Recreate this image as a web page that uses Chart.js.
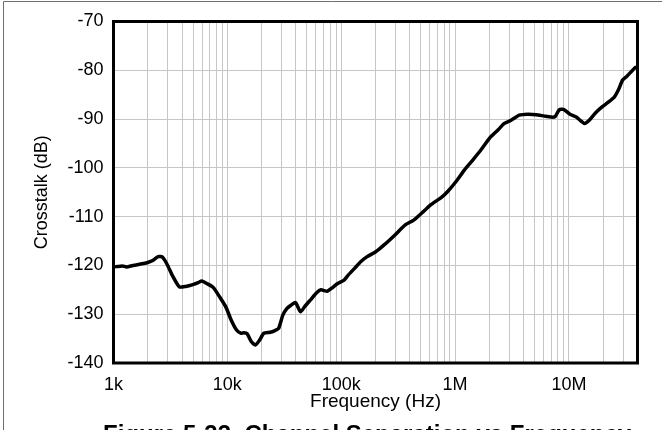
<!DOCTYPE html>
<html lang="en">

<head>
    <meta charset="UTF-8">
    <title>Channel Separation vs Frequency</title>
    <style>
        html,
        body {
            margin: 0;
            padding: 0;
            background: #fff;
            overflow: hidden;
        }

        canvas {
            display: block;
        }
    </style>
</head>

<body>
    <canvas id="crosstalkChart" width="662" height="430"></canvas>

    <script src="https://cdn.jsdelivr.net/npm/chart.js"></script>
    <script>
        // Measured curve: frequency (Hz) and crosstalk (dB)
        const freqHz = [
            1000, 1200, 1300, 1480, 1840, 2000, 2210, 2470, 2690, 2930,
            3330, 3790, 4310, 4900, 5570, 5960, 6600, 7510, 8530, 9690,
            10800, 12000, 13100, 14000, 14900, 16200, 17600, 19200, 20900, 23800,
            25900, 28200, 30700, 33400, 36400, 39600, 41400, 44000, 47900, 53500,
            60800, 66200, 75200, 82000, 93100, 106000, 115000, 131000, 149000, 169000,
            201000, 238000, 295000, 365000, 433000, 513000, 610000, 754000, 857000, 1020000,
            1210000, 1430000, 1690000, 2010000, 2390000, 2710000, 3080000, 3660000, 4340000, 5150000,
            6100000, 6950000, 7550000, 8220000, 8960000, 10200000, 11600000, 12600000, 13700000, 15000000,
            17000000, 19300000, 22000000, 25000000, 27200000, 29600000, 32300000, 35200000, 38300000, 40000000
        ];
        const crosstalkDb = [
            -120.3, -120.1, -120.3, -120.0, -119.6, -119.4, -119.0, -118.2, -118.3, -119.6,
            -122.3, -124.4, -124.3, -124.0, -123.5, -123.2, -123.7, -124.5, -126.4, -128.5,
            -131.2, -133.2, -133.9, -133.8, -134.0, -135.6, -136.3, -135.3, -133.9, -133.7,
            -133.4, -132.9, -130.2, -128.8, -128.1, -127.6, -128.4, -129.5, -128.4, -127.1,
            -125.6, -125.0, -125.3, -124.7, -123.7, -123.0, -122.0, -120.6, -119.2, -118.2,
            -117.2, -115.8, -113.8, -111.7, -110.7, -109.2, -107.6, -106.1, -104.9, -102.8,
            -100.4, -98.4, -96.3, -93.9, -92.2, -90.9, -90.3, -89.2, -89.0, -89.1,
            -89.4, -89.6, -89.5, -88.1, -88.0, -89.0, -89.6, -90.3, -90.9, -90.3,
            -88.8, -87.6, -86.6, -85.5, -84.0, -82.0, -81.2, -80.3, -79.4, -79.4
        ];

        // Axis labels
        const decadeValues = [1e3, 1e4, 1e5, 1e6, 1e7];
        const decadeLabels = ['1k', '10k', '100k', '1M', '10M'];
        const freqMin = 1e3;
        const freqMax = 4e7;
        const dbMin = -140;
        const dbMax = -70;
        const dbStep = 10;

        const FONT = '"Liberation Sans", Arial, Helvetica, sans-serif';
        const GRID = '#c6c6c6';

        // Thick black box around the plot, plus the figure title and page border
        const framePlugin = {
            id: 'frame',
            afterDraw(chart) {
                const { ctx, chartArea: a } = chart;
                ctx.save();
                ctx.strokeStyle = '#000';
                ctx.lineWidth = 3;
                ctx.strokeRect(a.left, a.top, a.right - a.left, a.bottom - a.top);

                ctx.strokeStyle = '#6e6e6e';
                ctx.lineWidth = 1;
                ctx.beginPath();
                ctx.moveTo(3.5, 430);
                ctx.lineTo(3.5, 1.5);
                ctx.lineTo(662, 1.5);
                ctx.stroke();

                ctx.fillStyle = '#000';
                ctx.font = 'bold 24px ' + FONT;
                ctx.textAlign = 'left';
                ctx.textBaseline = 'alphabetic';
                ctx.fillText('Figure 5-33. Channel Separation vs Frequency', 103, 442);
                ctx.restore();
            }
        };

        const points = freqHz.map((f, i) => ({ x: f, y: crosstalkDb[i] }));

        new Chart(document.getElementById('crosstalkChart'), {
            type: 'line',
            data: {
                datasets: [{
                    label: 'Crosstalk',
                    data: points,
                    borderColor: '#000',
                    borderWidth: 3.5,
                    pointRadius: 0,
                    tension: 0.2,
                    borderJoinStyle: 'round',
                    borderCapStyle: 'round',
                    fill: false
                }]
            },
            options: {
                responsive: false,
                animation: false,
                layout: {
                    padding: { top: 21.5, right: 24.5, left: 0, bottom: 0 }
                },
                plugins: {
                    legend: { display: false },
                    tooltip: { enabled: false }
                },
                scales: {
                    x: {
                        type: 'logarithmic',
                        min: freqMin,
                        max: freqMax,
                        afterBuildTicks(scale) {
                            // gridlines at 1..9 of every decade
                            const ticks = [];
                            for (let d = freqMin; d <= freqMax; d *= 10) {
                                for (let m = 1; m <= 9; m++) {
                                    const v = Math.round(d * m);
                                    if (v <= freqMax) ticks.push({ value: v });
                                }
                            }
                            scale.ticks = ticks;
                        },
                        afterFit(scale) {
                            scale.height = 67;
                        },
                        grid: {
                            color: GRID,
                            lineWidth: 1,
                            drawTicks: false
                        },
                        border: { display: false },
                        ticks: {
                            autoSkip: false,
                            maxRotation: 0,
                            padding: 11,
                            color: '#000',
                            font: { family: FONT, size: 18 },
                            callback(value) {
                                const i = decadeValues.indexOf(value);
                                return i >= 0 ? decadeLabels[i] : '';
                            }
                        },
                        title: {
                            display: true,
                            text: 'Frequency (Hz)',
                            color: '#000',
                            font: { family: FONT, size: 19 },
                            padding: { top: 0, bottom: 17 }
                        }
                    },
                    y: {
                        min: dbMin,
                        max: dbMax,
                        afterFit(scale) {
                            scale.width = 113.5;
                        },
                        grid: {
                            color: GRID,
                            lineWidth: 1,
                            drawTicks: false
                        },
                        border: { display: false },
                        ticks: {
                            stepSize: dbStep,
                            padding: 10,
                            color: '#000',
                            font: { family: FONT, size: 18 }
                        },
                        title: {
                            display: true,
                            text: 'Crosstalk (dB)',
                            color: '#000',
                            font: { family: FONT, size: 18 },
                            padding: { top: 31, bottom: 0 }
                        }
                    }
                }
            },
            plugins: [framePlugin]
        });
    </script>
</body>

</html>
